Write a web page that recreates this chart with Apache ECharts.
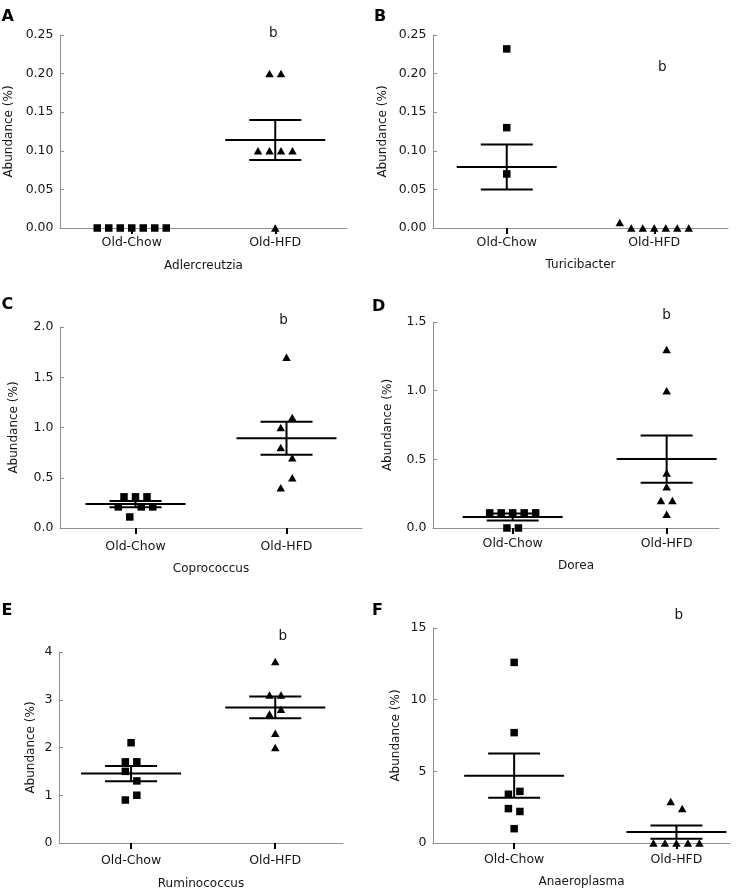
<!DOCTYPE html>
<html><head><meta charset="utf-8">
<script src="https://cdn.jsdelivr.net/npm/echarts@6/dist/echarts.min.js"></script>
<style>html,body{margin:0;padding:0;background:#fff}#c{width:741px;height:896px}</style>
</head><body><div id="c"></div>
<script>
// ---------- data ----------
const groups = ['Old-Chow', 'Old-HFD'];
const panelLetters = ['A', 'B', 'C', 'D', 'E', 'F'];
const genera = ['Adlercreutzia', 'Turicibacter', 'Coprococcus', 'Dorea', 'Ruminococcus', 'Anaeroplasma'];
const yAxisTitle = 'Abundance (%)';
const sigLetter = 'b';
const yMaxes = [0.25, 0.25, 2.0, 1.5, 4, 15];
const ySteps = [0.05, 0.05, 0.5, 0.5, 1, 5];
const yDecimals = [2, 2, 1, 1, 0, 0];

// individual abundances
const adlerChow = [0, 0, 0, 0, 0, 0, 0];
const adlerHFD = [0.2, 0.2, 0.1, 0.1, 0.1, 0.1, 0];
const turiChow = [0.232, 0.13, 0.07];
const turiHFD = [0.007, 0, 0, 0, 0, 0, 0];
const coproChow = [0.21, 0.11, 0.21, 0.21, 0.31, 0.31, 0.31];
const coproHFD = [0.4, 0.5, 0.8, 0.7, 1.0, 1.1, 1.7];
const doreaChow = [0, 0, 0.11, 0.11, 0.11, 0.11, 0.11];
const doreaHFD = [1.3, 1.0, 0.4, 0.3, 0.2, 0.2, 0.1];
const rumiChow = [0.9, 1.0, 1.5, 1.3, 1.7, 1.7, 2.1];
const rumiHFD = [2.0, 2.3, 2.7, 2.8, 3.1, 3.1, 3.8];
const anaeroChow = [1.0, 2.4, 2.2, 3.4, 3.6, 7.7, 12.6];
const anaeroHFD = [0, 0, 0, 0, 0, 2.9, 2.4];

// mean and SEM per group [Old-Chow, Old-HFD]
const adlerMean = [null, 0.114], adlerSEM = [null, 0.026];
const turiMean = [0.079, null], turiSEM = [0.029, null];
const coproMean = [0.238, 0.893], coproSEM = [0.031, 0.163];
const doreaMean = [0.08, 0.502], doreaSEM = [0.025, 0.172];
const rumiMean = [1.455, 2.84], rumiSEM = [0.16, 0.23];
const anaeroMean = [4.70, 0.76], anaeroSEM = [1.54, 0.46];

const chowSets = [adlerChow, turiChow, coproChow, doreaChow, rumiChow, anaeroChow];
const hfdSets = [adlerHFD, turiHFD, coproHFD, doreaHFD, rumiHFD, anaeroHFD];
const meanSets = [adlerMean, turiMean, coproMean, doreaMean, rumiMean, anaeroMean];
const semSets = [adlerSEM, turiSEM, coproSEM, doreaSEM, rumiSEM, anaeroSEM];

// ---------- layout / style ----------
const layout = [
  {left: 60,  top: 35,  width: 287, height: 193, xMin: 0.5,   xMax: 2.5,  yGap: 45, xGap: 32, catMargin: 8,    lx: 1.5, ly: 17.5,  bDx: -2,  bY: 33},
  {left: 433, top: 35,  width: 295, height: 193, xMin: 0.5,   xMax: 2.5,  yGap: 44, xGap: 31, catMargin: 8,    lx: 374, ly: 17.5,  bDx: 8,   bY: 67},
  {left: 60,  top: 327, width: 302, height: 201, xMin: 0.5,   xMax: 2.5,  yGap: 40, xGap: 35, catMargin: 12,   lx: 1.5, ly: 306,   bDx: -3,  bY: 320.7},
  {left: 433, top: 322, width: 286, height: 206, xMin: 0.4825,xMax: 2.34, yGap: 39, xGap: 32, catMargin: 9.5,  lx: 372, ly: 307.5, bDx: 0,   bY: 315},
  {left: 59,  top: 652, width: 284, height: 191, xMin: 0.5,   xMax: 2.47, yGap: 22, xGap: 35, catMargin: 11.5, lx: 1.5, ly: 611.5, bDx: 7.5, bY: 636.7},
  {left: 433, top: 628, width: 297, height: 215, xMin: 0.5,   xMax: 2.33, yGap: 31, xGap: 33, catMargin: 10,   lx: 372, ly: 611.5, bDx: 2.3, bY: 615}
];
const FONT = 'DejaVu Sans';
const TXT = '#151515';
const AXIS_GRAY = '#8f8f8f';
const INK = '#000';
const SPACING = 11.5;   // px between neighbours in a row
const ROW_TOL = 12;     // px: points closer than this share a row
const MEAN_HALF = 50, SEM_HALF = 26;

function swarm(vals, center, pxPerY, pxPerX) {
  const idx = vals.map((v, i) => i).sort((a, b) => vals[a] - vals[b] || a - b);
  const rows = []; let cur = null;
  idx.forEach(i => {
    if (cur && (vals[i] - vals[cur[0]]) * pxPerY < ROW_TOL) cur.push(i);
    else { cur = [i]; rows.push(cur); }
  });
  const out = [];
  rows.forEach(r => {
    r.sort((a, b) => a - b);
    r.forEach((i, k) => {
      const dx = (k - (r.length - 1) / 2) * SPACING;
      out[i] = [center + dx / pxPerX, vals[i]];
    });
  });
  return out;
}

const grids = [], xAxes = [], yAxes = [], series = [], graphics = [];
layout.forEach((L, p) => {
  grids.push({left: L.left, top: L.top, width: L.width, height: L.height, containLabel: false});
  xAxes.push({
    type: 'value', gridIndex: p, min: L.xMin, max: L.xMax,
    name: genera[p], nameLocation: 'middle', nameGap: L.xGap,
    nameTextStyle: {fontFamily: FONT, fontSize: 12, color: TXT},
    axisLine: {show: true, lineStyle: {color: AXIS_GRAY, width: 1}},
    axisTick: {show: true, customValues: [1, 2], length: 6, inside: false, lineStyle: {color: INK, width: 2}},
    axisLabel: {show: true, customValues: [1, 2], margin: L.catMargin, fontFamily: FONT, fontSize: 12.5, color: TXT,
      formatter: v => groups[Math.round(v) - 1] || ''},
    splitLine: {show: false}
  });
  yAxes.push({
    type: 'value', gridIndex: p, min: 0, max: yMaxes[p], interval: ySteps[p],
    name: yAxisTitle, nameLocation: 'middle', nameRotate: 90, nameGap: L.yGap,
    nameTextStyle: {fontFamily: FONT, fontSize: 12, color: TXT},
    axisLine: {show: true, lineStyle: {color: AXIS_GRAY, width: 1}},
    axisTick: {show: true, inside: true, length: 4, lineStyle: {color: AXIS_GRAY}},
    axisLabel: {margin: 6.5, fontFamily: FONT, fontSize: 12.5, color: TXT,
      formatter: v => v.toFixed(yDecimals[p])},
    splitLine: {show: false}
  });
  const pxPerY = L.height / yMaxes[p];
  const pxPerX = L.width / (L.xMax - L.xMin);
  // mean ± SEM
  const msData = [];
  [0, 1].forEach(g => {
    if (meanSets[p][g] != null) msData.push([g + 1, meanSets[p][g], semSets[p][g]]);
  });
  series.push({
    type: 'custom', xAxisIndex: p, yAxisIndex: p, z: 3, silent: true,
    data: msData,
    renderItem: (params, api) => {
      const x = api.value(0), m = api.value(1), s = api.value(2);
      const c = api.coord([x, m]);
      const up = api.coord([x, m + s]);
      const lo = api.coord([x, m - s]);
      const st = {stroke: INK, lineWidth: 2, fill: null};
      return {type: 'group', children: [
        {type: 'line', shape: {x1: c[0] - MEAN_HALF, y1: c[1], x2: c[0] + MEAN_HALF, y2: c[1]}, style: st},
        {type: 'line', shape: {x1: c[0] - SEM_HALF, y1: up[1], x2: c[0] + SEM_HALF, y2: up[1]}, style: st},
        {type: 'line', shape: {x1: c[0] - SEM_HALF, y1: lo[1], x2: c[0] + SEM_HALF, y2: lo[1]}, style: st},
        {type: 'line', shape: {x1: c[0], y1: up[1], x2: c[0], y2: lo[1]}, style: st}
      ]};
    }
  });
  series.push({
    type: 'scatter', xAxisIndex: p, yAxisIndex: p, z: 4, silent: true,
    symbol: 'rect', symbolSize: 7.5, itemStyle: {color: INK, opacity: 1},
    data: swarm(chowSets[p], 1, pxPerY, pxPerX)
  });
  series.push({
    type: 'scatter', xAxisIndex: p, yAxisIndex: p, z: 4, silent: true,
    symbol: 'triangle', symbolSize: [8.5, 7.5], itemStyle: {color: INK, opacity: 1},
    data: swarm(hfdSets[p], 2, pxPerY, pxPerX)
  });
  // panel letter
  graphics.push({type: 'text', left: L.lx, top: L.ly - 9,
    style: {text: panelLetters[p], font: 'bold 16px "DejaVu Sans"', fill: INK}});
  // significance letter above Old-HFD
  const hx = L.left + (2 - L.xMin) * pxPerX + L.bDx;
  graphics.push({type: 'text', x: hx, y: L.bY,
    style: {text: sigLetter, font: '13.5px "DejaVu Sans"', fill: TXT, align: 'center', verticalAlign: 'middle'}});
});

const chart = echarts.init(document.getElementById('c'), null, {renderer: 'canvas'});
chart.setOption({
  animation: false,
  backgroundColor: '#fff',
  grid: grids, xAxis: xAxes, yAxis: yAxes, series: series, graphic: graphics
});
</script>
</body></html>
